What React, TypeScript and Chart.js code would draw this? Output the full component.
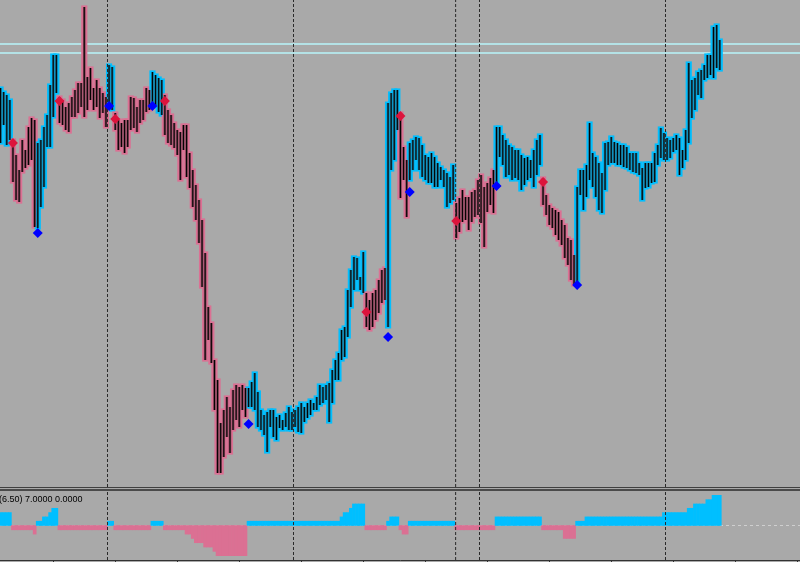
import React, { useEffect, useRef } from "react";
import { Chart, registerables } from "chart.js";

Chart.register(...registerables);

// ---- data (bar index 0..232, price in chart units) ----
const highs: number[] = [
  400, 396, 393, 388, 348, 333, 318, 348, 338, 361,
  370, 368, 345, 348, 361, 373, 403, 433, 433, 391,
  388, 381, 385, 391, 398, 405, 405, 481, 411, 420,
  400, 408, 400, 395, 391, 423, 421, 375, 368, 365,
  368, 368, 391, 390, 381, 388, 388, 400, 398, 416,
  413, 410, 408, 393, 378, 373, 365, 358, 356, 363,
  363, 335, 318, 303, 288, 268, 235, 181, 165, 128,
  108, 65, 78, 91, 81, 98, 103, 101, 103, 100,
  100, 106, 115, 96, 78, 73, 76, 78, 78, 71,
  73, 68, 75, 81, 76, 78, 81, 85, 81, 85,
  88, 85, 91, 103, 101, 103, 105, 118, 128, 135,
  158, 161, 198, 218, 231, 230, 211, 236, 195, 188,
  195, 198, 208, 218, 220, 385, 395, 398, 398, 375,
  341, 328, 345, 348, 351, 350, 343, 333, 331, 335,
  331, 325, 321, 318, 315, 311, 323, 285, 290, 298,
  291, 291, 296, 298, 308, 313, 301, 305, 310, 318,
  361, 361, 353, 348, 343, 341, 338, 338, 333, 330,
  331, 328, 338, 348, 353, 310, 293, 283, 280, 278,
  276, 268, 263, 250, 248, 233, 301, 318, 318, 323,
  365, 335, 331, 325, 315, 345, 346, 351, 346, 345,
  343, 343, 341, 335, 335, 335, 325, 320, 325, 325,
  325, 335, 343, 360, 355, 350, 348, 350, 353, 350,
  338, 358, 425, 408, 410, 416, 418, 423, 433, 433,
  461, 463, 448,
];

const lows: number[] = [
  345, 363, 343, 348, 306, 288, 286, 316, 320, 323,
  328, 261, 260, 281, 301, 341, 341, 371, 395, 365,
  363, 358, 356, 371, 371, 375, 381, 371, 378, 388,
  378, 381, 370, 375, 361, 381, 378, 358, 338, 341,
  335, 341, 358, 360, 356, 365, 368, 376, 378, 381,
  383, 376, 373, 353, 345, 343, 340, 333, 308, 338,
  311, 300, 281, 268, 245, 201, 128, 148, 125, 78,
  15, 15, 31, 51, 35, 58, 68, 61, 78, 71,
  81, 81, 78, 61, 58, 53, 36, 61, 51, 48,
  60, 58, 61, 58, 58, 61, 56, 55, 66, 70,
  73, 78, 78, 83, 85, 88, 66, 85, 108, 108,
  128, 131, 151, 181, 198, 208, 198, 195, 161, 158,
  161, 168, 175, 185, 188, 161, 318, 328, 358, 290,
  308, 271, 308, 318, 328, 318, 311, 308, 305, 305,
  301, 301, 308, 301, 281, 285, 288, 250, 256, 266,
  268, 258, 266, 271, 273, 265, 241, 276, 283, 275,
  305, 331, 323, 311, 313, 308, 310, 308, 298, 303,
  308, 310, 301, 313, 323, 283, 273, 263, 260, 253,
  248, 243, 230, 223, 208, 203, 206, 293, 278, 291,
  308, 301, 291, 278, 275, 298, 323, 325, 325, 323,
  323, 321, 320, 318, 316, 315, 313, 288, 300, 301,
  305, 306, 323, 330, 328, 328, 330, 336, 338, 313,
  320, 328, 345, 370, 378, 393, 390, 408, 410, 413,
  410, 420, 418,
];

// trend indicator (sub window histogram), sign gives bar colour
const trend: number[] = [
  3, 3, 3, 3, -1, -1, -1, -1, -1, -1,
  -1, -2, 1, 1, 2, 2, 3, 4, 4, -1,
  -1, -1, -1, -1, -1, -1, -1, -1, -1, -1,
  -1, -1, -1, -1, -1, 1, 1, -1, -1, -1,
  -1, -1, -1, -1, -1, -1, -1, -1, -1, 1,
  1, 1, 1, -1, -1, -1, -1, -1, -1, -1,
  -2, -2, -3, -4, -4, -4, -5, -5, -5, -6,
  -7, -7, -7, -7, -7, -7, -7, -7, -7, -7,
  1, 1, 1, 1, 1, 1, 1, 1, 1, 1,
  1, 1, 1, 1, 1, 1, 1, 1, 1, 1,
  1, 1, 1, 1, 1, 1, 1, 1, 1, 1,
  2, 3, 3, 4, 5, 5, 5, 5, -1, -1,
  -1, -1, -1, -1, -1, 1, 2, 2, 2, -1,
  -2, -2, 1, 1, 1, 1, 1, 1, 1, 1,
  1, 1, 1, 1, 1, 1, 1, -1, -1, -1,
  -1, -1, -1, -1, -1, -1, -1, -1, -1, -1,
  2, 2, 2, 2, 2, 2, 2, 2, 2, 2,
  2, 2, 2, 2, 2, -1, -1, -1, -1, -1,
  -1, -1, -3, -3, -3, -3, 1, 1, 1, 2,
  2, 2, 2, 2, 2, 2, 2, 2, 2, 2,
  2, 2, 2, 2, 2, 2, 2, 2, 2, 2,
  2, 2, 2, 2, 3, 3, 3, 3, 3, 3,
  3, 3, 4, 4, 5, 5, 5, 5, 6, 6,
  7, 7, 7,
];

const buyBars: number[] = [12, 35, 49, 80, 125, 132, 160, 186];
const buyPrices: number[] = [255, 382, 382, 64, 151, 296, 302, 203];
const sellBars: number[] = [4, 19, 37, 53, 118, 129, 147, 175];
const sellPrices: number[] = [345, 387, 369, 387, 176, 372, 267, 306];
const levelPrices: number[] = [444, 435];
const separatorBars: number[] = [34.5, 94.5, 146.8, 154.5, 214.5];
const timeTickBars: number[] = [7, 27, 47, 67, 87, 107, 127, 147, 167, 187, 207, 227, 247];
const indicatorLabel = "(6.50) 7.0000 0.0000";

// ---- styles ----
const BG = "#a9a9a9";
const UP = "#00bfff";
const DN = "#db7093";
const UP_DARK = "#1a6c8a";
const DN_DARK = "#7a4254";
const SEP = "#2a2a2a";
const BAR_SPACING = 3.1;
const X_MIN = -0.18;
const X_MAX = X_MIN + 800 / BAR_SPACING;
const P_MIN = 1;
const P_MAX = 488;

export default function App() {
  const mainRef = useRef<HTMLCanvasElement>(null);
  const subRef = useRef<HTMLCanvasElement>(null);

  useEffect(() => {
    document.body.style.margin = "0";
    document.body.style.background = BG;

    const ranges = highs.map((h, i) => ({ x: i, y: [lows[i], h] }));
    const upDn = (ctx: any) => (trend[ctx.dataIndex] > 0 ? UP : DN);
    const upDnDark = (ctx: any) => (trend[ctx.dataIndex] > 0 ? UP_DARK : DN_DARK);

    const sepSets = (y0: number, y1: number, order: number) =>
      separatorBars.map((x) => ({
        type: "line" as const,
        data: [
          { x, y: y0 },
          { x, y: y1 },
        ],
        borderColor: SEP,
        borderWidth: 1,
        borderDash: [3, 2],
        pointRadius: 0,
        order,
      }));

    const levelSets = levelPrices.map((p) => ({
      type: "line" as const,
      data: [
        { x: X_MIN, y: p },
        { x: X_MAX, y: p },
      ],
      borderColor: "#b4e2e6",
      borderWidth: 2,
      pointRadius: 0,
      order: 9,
    }));

    const main = new Chart(mainRef.current!, {
      type: "bar",
      data: {
        datasets: [
          ...levelSets,
          {
            type: "bar",
            data: ranges as any,
            backgroundColor: upDn,
            barThickness: 3,
            inflateAmount: 1.6,
            grouped: false,
            order: 8,
          },
          {
            type: "bar",
            data: ranges as any,
            backgroundColor: upDnDark,
            barThickness: 2.6,
            inflateAmount: 0,
            grouped: false,
            order: 7,
          },
          {
            type: "bar",
            data: ranges as any,
            backgroundColor: "#000000",
            barThickness: 1,
            inflateAmount: 0,
            grouped: false,
            order: 6,
          },
          ...sepSets(P_MIN, P_MAX, 2),
          {
            type: "scatter",
            data: buyBars.map((b, k) => ({ x: b, y: buyPrices[k] })),
            pointStyle: "rectRot",
            pointRadius: 5,
            pointBackgroundColor: "#0000ff",
            pointBorderWidth: 0,
            order: 1,
          },
          {
            type: "scatter",
            data: sellBars.map((b, k) => ({ x: b, y: sellPrices[k] })),
            pointStyle: "rectRot",
            pointRadius: 5,
            pointBackgroundColor: "#dc143c",
            pointBorderWidth: 0,
            order: 1,
          },
        ] as any,
      },
      options: {
        animation: false,
        responsive: false,
        maintainAspectRatio: false,
        events: [],
        layout: { padding: 0, autoPadding: false },
        plugins: { legend: { display: false }, tooltip: { enabled: false } },
        scales: {
          x: { type: "linear", min: X_MIN, max: X_MAX, offset: false, display: false },
          y: { type: "linear", min: P_MIN, max: P_MAX, display: false },
        },
      },
    });

    const sub = new Chart(subRef.current!, {
      type: "bar",
      data: {
        datasets: [
          {
            type: "line",
            data: [
              { x: X_MIN, y: 0 },
              { x: X_MAX, y: 0 },
            ],
            borderColor: "#cfcfcf",
            borderWidth: 1,
            borderDash: [3, 3],
            pointRadius: 0,
            order: 5,
          },
          {
            type: "bar",
            data: trend.map((v, i) => ({ x: i, y: v })),
            backgroundColor: (ctx: any) => (trend[ctx.dataIndex] > 0 ? UP : DN),
            barPercentage: 1,
            categoryPercentage: 1,
            inflateAmount: 0.3,
            grouped: false,
            order: 3,
          },
          ...sepSets(-8, 8, 1),
        ] as any,
      },
      options: {
        animation: false,
        responsive: false,
        maintainAspectRatio: false,
        events: [],
        layout: { padding: 0, autoPadding: false },
        plugins: { legend: { display: false }, tooltip: { enabled: false } },
        scales: {
          x: {
            type: "linear",
            min: X_MIN,
            max: X_MAX,
            offset: false,
            display: true,
            afterBuildTicks: (s: any) => {
              s.ticks = timeTickBars.map((v) => ({ value: v }));
            },
            ticks: { display: false },
            grid: {
              display: true,
              drawOnChartArea: false,
              drawTicks: true,
              tickLength: 3,
              color: "#333333",
              lineWidth: 1,
            },
            border: { display: true, color: "#333333", width: 1 },
          },
          y: { type: "linear", min: -8, max: 8, display: false },
        },
      },
    });

    return () => {
      main.destroy();
      sub.destroy();
    };
  }, []);

  return (
    <div
      style={{
        position: "absolute",
        left: 0,
        top: 0,
        width: 800,
        height: 562,
        background: BG,
        overflow: "hidden",
      }}
    >
      <canvas
        ref={mainRef}
        width={800}
        height={487}
        style={{ position: "absolute", left: 0, top: 0, width: 800, height: 487 }}
      />
      <div style={{ position: "absolute", left: 0, top: 487, width: 800, height: 1, background: "#404040" }} />
      <div style={{ position: "absolute", left: 0, top: 489, width: 800, height: 2, background: "#4a4a4a" }} />
      <canvas
        ref={subRef}
        width={800}
        height={72}
        style={{ position: "absolute", left: 0, top: 491, width: 800, height: 72 }}
      />
      <div
        style={{
          position: "absolute",
          left: -1,
          top: 494,
          font: "9px 'Liberation Sans', Arial, sans-serif",
          lineHeight: "10px",
          color: "#000",
          whiteSpace: "nowrap",
        }}
      >
        {indicatorLabel}
      </div>
    </div>
  );
}
